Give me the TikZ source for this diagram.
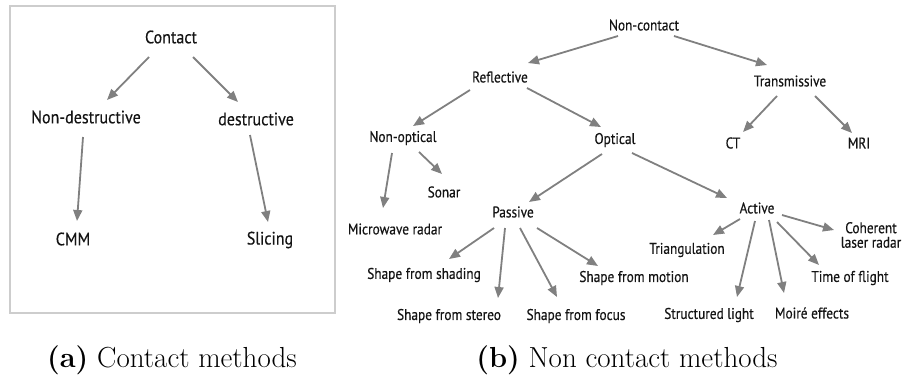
\documentclass[tikz,border=0pt]{standalone}
\usepackage{fontspec}
\usetikzlibrary{arrows.meta}
\newfontfamily\diagfont[FakeStretch=0.89,FakeBold=0.35]{PT Sans}
\newfontfamily\diagnarrow[FakeStretch=0.86,FakeBold=0.35]{PT Sans}
\definecolor{arrgray}{RGB}{128,128,128}
\definecolor{boxgray}{RGB}{205,205,205}
\definecolor{txt}{RGB}{20,20,20}
\tikzset{
  lbig/.style={inner sep=0pt, text=txt, font=\diagfont\fontsize{18}{20}\selectfont},
  lsmall/.style={inner sep=0pt, text=txt, font=\diagnarrow\fontsize{15.5}{14.5}\selectfont, align=center},
  captext/.style={inner sep=0pt, font=\fontsize{29}{33}\selectfont},
  arr/.style={draw=arrgray, line width=1.8pt, -{Triangle[length=11pt,width=9pt,fill=arrgray]}}
}
\begin{document}
\begin{tikzpicture}[x=1pt,y=-1pt]
\useasboundingbox (0,0) rectangle (904,378);
% left panel
\draw[boxgray, line width=2pt] (10,6) rectangle (335,313);
\node[lbig] (contact) at (171,37) {Contact};
\node[lbig] (nondes) at (86,117) {Non-destructive};
\node[lbig] (des) at (256,119) {destructive};
\node[lbig] (cmm) at (73,239) {CMM};
\node[lbig] (slicing) at (270,240) {Slicing};
\draw[arr] ([shift={(-22,20)}]contact.center) -- ([shift={(21,-17)}]nondes.center);
\draw[arr] ([shift={(22,20)}]contact.center) -- ([shift={(-18,-17)}]des.center);
\draw[arr] ([shift={(-3,20)}]nondes.center) -- ([shift={(4,-18)}]cmm.center);
\draw[arr] ([shift={(-6,16)}]des.center) -- ([shift={(-2,-18)}]slicing.center);
% right panel
\node[lsmall] (noncontact) at (644,25) {Non-contact};
\node[lsmall] (reflective) at (500,77) {Reflective};
\node[lsmall] (transmissive) at (790,81) {Transmissive};
\node[lsmall] (nonoptical) at (403,138) {Non-optical};
\node[lsmall] (optical) at (615,140) {Optical};
\node[lsmall] (ct) at (733,143) {CT};
\node[lsmall] (mri) at (859,143) {MRI};
\node[lsmall] (sonar) at (444,192) {Sonar};
\node[lsmall] (microwave) at (395,229) {Microwave radar};
\node[lsmall] (passive) at (513,212) {Passive};
\node[lsmall] (active) at (757,208) {Active};
\node[lsmall] (coherent) at (871,235) {Coherent\\laser radar};
\node[lsmall] (triangulation) at (687,250) {Triangulation};
\node[lsmall] (shading) at (424,275) {Shape from shading};
\node[lsmall] (motion) at (634,278) {Shape from motion};
\node[lsmall] (timeflight) at (850,278) {Time of flight};
\node[lsmall] (stereo) at (449,316) {Shape from stereo};
\node[lsmall] (focus) at (576,316) {Shape from focus};
\node[lsmall] (structured) at (709,315) {Structured light};
\node[lsmall] (moire) at (812,313) {Moiré effects};
\draw[arr] ([shift={(-26,11)}]noncontact.center) -- ([shift={(28,-14)}]reflective.center);
\draw[arr] ([shift={(30,11)}]noncontact.center) -- ([shift={(-23,-16)}]transmissive.center);
\draw[arr] ([shift={(-30,13)}]reflective.center) -- ([shift={(10,-12)}]nonoptical.center);
\draw[arr] ([shift={(27,11)}]reflective.center) -- ([shift={(-14,-13)}]optical.center);
\draw[arr] ([shift={(-13,15)}]transmissive.center) -- ([shift={(10,-11)}]ct.center);
\draw[arr] ([shift={(25,15)}]transmissive.center) -- ([shift={(-7,-10)}]mri.center);
\draw[arr] ([shift={(-11,15)}]nonoptical.center) -- ([shift={(-12,-21)}]microwave.center);
\draw[arr] ([shift={(16,14)}]nonoptical.center) -- ([shift={(-2,-18)}]sonar.center);
\draw[arr] ([shift={(-13,14)}]optical.center) -- ([shift={(16,-10)}]passive.center);
\draw[arr] ([shift={(17,13)}]optical.center) -- ([shift={(-30,-10)}]active.center);
\draw[arr] ([shift={(-19,16)}]passive.center) -- ([shift={(25,-16)}]shading.center);
\draw[arr] ([shift={(-8,16)}]passive.center) -- ([shift={(49,-18)}]stereo.center);
\draw[arr] ([shift={(7,16)}]passive.center) -- ([shift={(-19,-19)}]focus.center);
\draw[arr] ([shift={(24,16)}]passive.center) -- ([shift={(-36,-12)}]motion.center);
\draw[arr] ([shift={(-17,11)}]active.center) -- ([shift={(26,-15)}]triangulation.center);
\draw[arr] ([shift={(-2,13)}]active.center) -- ([shift={(28,-18)}]structured.center);
\draw[arr] ([shift={(12,12)}]active.center) -- ([shift={(-28,-20)}]moire.center);
\draw[arr] ([shift={(20,14)}]active.center) -- ([shift={(-31,-13)}]timeflight.center);
\draw[arr] ([shift={(25,7)}]active.center) -- ([shift={(-37,-5)}]coherent.center);
% captions
\node[captext] (capa) at (172,360) {\textbf{(a)} Contact methods};
\node[captext] (capb) at (627,360) {\textbf{(b)} Non contact methods};
\end{tikzpicture}
\end{document}
